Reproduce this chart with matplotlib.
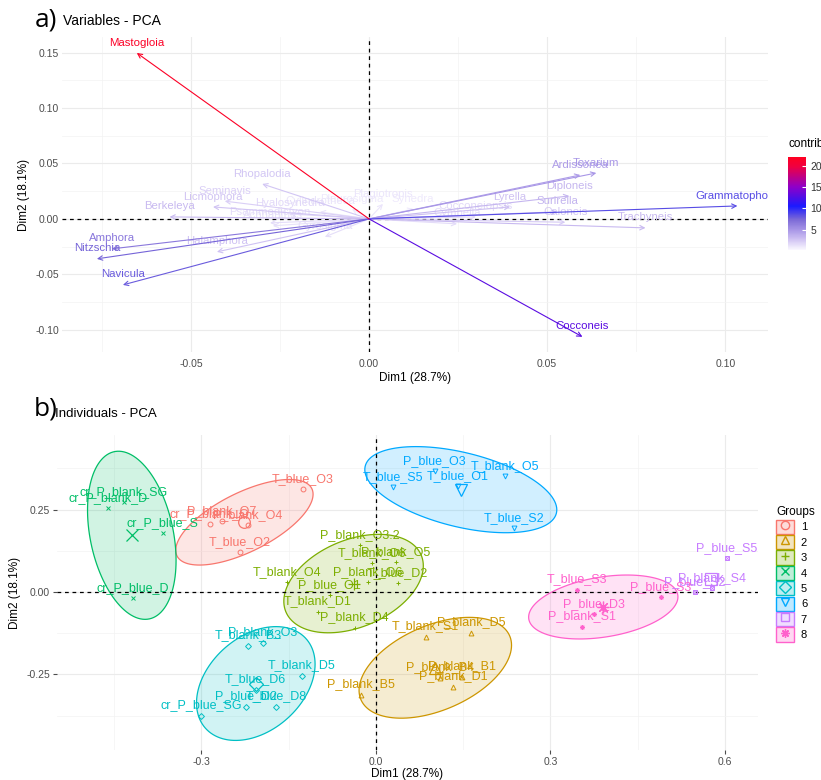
import numpy as np
import matplotlib.pyplot as plt
from matplotlib.colors import LinearSegmentedColormap, Normalize
from matplotlib.cm import ScalarMappable
from matplotlib.patches import Patch, Polygon
from matplotlib.lines import Line2D
from matplotlib.legend_handler import HandlerTuple

plt.rcParams['font.family'] = ['Liberation Sans', 'DejaVu Sans']

# ---- a) variables: arrow tips and contributions ----
var_names = ['Mastogloia', 'Grammatophora', 'Cocconeis', 'Toxarium', 'Ardissonea',
             'Diploneis', 'Surirella', 'Lyrella', 'Caloneis', 'Trachyneis',
             'Navicula', 'Nitzschia', 'Amphora', 'Halamphora', 'Berkeleya',
             'Licmophora', 'Seminavis', 'Rhopalodia', 'Hyalosynedra', 'Psammodictyon',
             'Plagiotropis', 'Synedra', 'Cylindrotheca', 'Pleurosigma', 'Cocconeiopsis',
             'Gyrosigma', 'Achnanthes', 'Cymbella']
var_dim1 = [-0.0652, 0.1034, 0.0599, 0.0638, 0.0593,
            0.0562, 0.0528, 0.0396, 0.0551, 0.0776,
            -0.0691, -0.0764, -0.0722, -0.0427, -0.0560,
            -0.0438, -0.0405, -0.0300, -0.0222, -0.0278,
            0.0039, 0.0124, -0.0138, -0.0048, 0.0300,
            -0.0124, -0.0270, 0.0247]
var_dim2 = [0.1496, 0.0117, -0.1063, 0.0414, 0.0396,
            0.0207, 0.0063, 0.0108, -0.0030, -0.0081,
            -0.0595, -0.0360, -0.0270, -0.0297, 0.0018,
            0.0108, 0.0160, 0.0315, 0.0045, -0.0036,
            0.0135, 0.0090, 0.0063, 0.0090, 0.0018,
            -0.0162, -0.0063, -0.0045]
var_contrib = [21.5, 8.6, 13.0, 5.0, 4.7,
               3.4, 3.5, 2.9, 2.5, 3.2,
               8.0, 7.6, 6.6, 2.8, 3.2,
               2.7, 2.2, 2.6, 1.8, 1.6,
               1.2, 1.0, 1.3, 1.0, 1.8,
               1.5, 1.4, 1.6]

# ---- b) individuals ----
ind_names = ['T_blue_O3', 'cr_P_blank_O', 'P_blank_O7', 'P_blank_O4', 'T_blue_O2',
             'T_blank_S1', 'P_blank_D5', 'P_blank_B4', 'P_blank_B1', 'P_blank_D1', 'P_blank_B5',
             'P_blank_O3.2', 'T_blank_O6', 'P_blank_O5', 'P_blank_O6', 'T_blue_D2',
             'T_blank_O4', 'P_blue_O1', 'T_blank_D1', 'P_blank_D4',
             'cr_P_blank_SG', 'cr_P_blank_D', 'cr_P_blue_S', 'cr_P_blue_D',
             'T_blank_B3', 'P_blank_O3', 'T_blank_D5', 'T_blue_D6', 'P_blue_D2', 'T_blue_D8',
             'cr_P_blue_SG',
             'P_blue_O3', 'T_blue_S5', 'T_blue_O1', 'T_blank_O5', 'T_blue_S2',
             'P_blue_S5', 'P_blank_S4', 'P_blue_S2',
             'T_blue_S3', 'P_blue_S3', 'P_blue_D3', 'P_blank_S1']
ind_dim1 = [-0.1255, -0.2853, -0.2647, -0.2200, -0.2338,
            0.0860, 0.1633, 0.1100, 0.1478, 0.1324, -0.0258,
            -0.0275, -0.0069, 0.0344, -0.0138, 0.0378,
            -0.1530, -0.0791, -0.0997, -0.0361,
            -0.4332, -0.4607, -0.3661, -0.4177,
            -0.2200, -0.1942, -0.1272, -0.2063, -0.2235, -0.1719,
            -0.3008,
            0.1014, 0.0292, 0.1410, 0.2218, 0.2372,
            0.6034, 0.5776, 0.5484,
            0.3455, 0.4899, 0.3747, 0.3541]
ind_dim2 = [0.3120, 0.2060, 0.2150, 0.2030, 0.1212,
            -0.1360, -0.1240, -0.2606, -0.2576, -0.2879, -0.3121,
            0.1424, 0.0879, 0.0909, 0.0303, 0.0273,
            0.0303, -0.0091, -0.0606, -0.1091,
            0.2727, 0.2545, 0.1788, -0.0182,
            -0.1636, -0.1545, -0.2545, -0.2969, -0.3485, -0.3485,
            -0.3757,
            0.3666, 0.3182, 0.3212, 0.3515, 0.1939,
            0.1030, 0.0121, 0.0000,
            0.0061, -0.0152, -0.0667, -0.1060]
ind_group = [1, 1, 1, 1, 1,
             2, 2, 2, 2, 2, 2,
             3, 3, 3, 3, 3, 3, 3, 3, 3,
             4, 4, 4, 4,
             5, 5, 5, 5, 5, 5, 5,
             6, 6, 6, 6, 6,
             7, 7, 7,
             8, 8, 8, 8]

group_ids = [1, 2, 3, 4, 5, 6, 7, 8]
group_colors = ['#F8766D', '#CD9600', '#7CAE00', '#00BE67',
                '#00BFC4', '#00A9FF', '#C77CFF', '#FF61CC']
group_markers = ['o', '^', '+', 'x', 'D', 'v', 's', (8, 2, 0)]
ELLIPSE_LEVEL = 0.84

contrib_cmap = LinearSegmentedColormap.from_list('contrib', [
    (0.0, '#faf8ff'), (0.12, '#cdbff2'), (0.22, '#a694e6'), (0.33, '#7a68d6'),
    (0.47, '#1a1aff'), (0.68, '#8f00c8'), (0.9, '#f00040'), (1.0, '#ff0020')])
contrib_norm = Normalize(vmin=0.3, vmax=22)

fig = plt.figure(figsize=(8.21, 7.80), dpi=100)
W, H = 821, 780


def px_axes(l, t, r, b):
    return fig.add_axes([l / W, 1 - b / H, (r - l) / W, (b - t) / H])


def style_axes(ax, xmaj, xmin, ymaj, ymin, ticks):
    ax.set_xticks(xmaj)
    ax.set_xticks(xmin, minor=True)
    ax.set_yticks(ymaj)
    ax.set_yticks(ymin, minor=True)
    ax.grid(True, which='major', color='#ebebeb', lw=0.8)
    ax.grid(True, which='minor', color='#f3f3f3', lw=0.5)
    ax.set_axisbelow(True)
    for s in ax.spines.values():
        s.set_visible(False)
    ax.tick_params(which='minor', length=0)
    ax.tick_params(which='major', length=3 if ticks else 0, color='#4d4d4d',
                   labelsize=7.5, labelcolor='#4d4d4d', pad=2)
    ax.axhline(0, color='black', ls=(0, (3, 3)), lw=0.9)
    ax.axvline(0, color='black', ls=(0, (3, 3)), lw=0.9)


# ---------------- panel a ----------------
ax1 = px_axes(62, 37, 768, 352)
ax1.set_xlim(-0.0862, 0.112)
ax1.set_ylim(-0.12, 0.164)
style_axes(ax1, [-0.05, 0, 0.05, 0.10], [-0.075, -0.025, 0.025, 0.075],
           [-0.10, -0.05, 0, 0.05, 0.10, 0.15],
           [-0.075, -0.025, 0.025, 0.075, 0.125], ticks=False)
ax1.tick_params(axis='x', pad=5)
ax1.set_xticklabels(['-0.05', '0.00', '0.05', '0.10'])
ax1.set_yticklabels(['-0.10', '-0.05', '0.00', '0.05', '0.10', '0.15'])

order = np.argsort(var_contrib)
for i in order:
    c = contrib_cmap(contrib_norm(var_contrib[i]))
    ax1.annotate('', xy=(var_dim1[i], var_dim2[i]), xytext=(0, 0),
                 arrowprops=dict(arrowstyle='->', color=c, lw=0.8,
                                 shrinkA=0, shrinkB=0, mutation_scale=8))
    ax1.annotate(var_names[i], (var_dim1[i], var_dim2[i]), xytext=(0, 7.5),
                 textcoords='offset points', ha='center', va='center',
                 fontsize=8.2, color=c, clip_on=True)

ax1.set_xlabel('Dim1 (28.7%)', fontsize=8.5, labelpad=2)
ax1.set_ylabel('Dim2 (18.1%)', fontsize=8.5, labelpad=4)

fig.text(35 / W, 1 - 20 / H, 'a)', fontsize=19, family='Open Sans', va='center')
fig.text(63 / W, 1 - 21 / H, 'Variables - PCA', fontsize=10, va='center')

cax = fig.add_axes([788 / W, 1 - 250 / H, 18 / W, 93 / H])
cb = fig.colorbar(ScalarMappable(norm=contrib_norm, cmap=contrib_cmap), cax=cax)
cb.outline.set_visible(False)
cb.set_ticks([5, 10, 15, 20])
cax.tick_params(length=3, color='white', direction='in', labelsize=7.5,
                labelcolor='#333333', pad=3)
fig.text(788 / W, 1 - 144 / H, 'contrib', fontsize=8.5, va='center')

# ---------------- panel b ----------------
ax2 = px_axes(57, 435, 758, 750)
ax2.set_xlim(-0.548, 0.657)
ax2.set_ylim(-0.479, 0.476)
style_axes(ax2, [-0.3, 0, 0.3, 0.6], [-0.45, -0.15, 0.15, 0.45],
           [-0.25, 0, 0.25], [-0.375, -0.125, 0.125, 0.375], ticks=True)
ax2.set_xticklabels(['-0.3', '0.0', '0.3', '0.6'])
ax2.set_yticklabels(['-0.25', '0.00', '0.25'])

xs_all = np.array(ind_dim1)
ys_all = np.array(ind_dim2)
gs_all = np.array(ind_group)
k = np.sqrt(-2 * np.log(1 - ELLIPSE_LEVEL))
t = np.linspace(0, 2 * np.pi, 120)
handles = []
for g, col, mk in zip(group_ids, group_colors, group_markers):
    sel = gs_all == g
    gx, gy = xs_all[sel], ys_all[sel]
    if sel.sum() >= 4:
        cov = np.cov(gx, gy)
        L = np.linalg.cholesky(cov)
        pts = (L @ np.vstack([np.cos(t), np.sin(t)])) * k
        pts = pts.T + [gx.mean(), gy.mean()]
        ax2.add_patch(Polygon(pts, closed=True, facecolor=col, alpha=0.18, lw=0))
        ax2.add_patch(Polygon(pts, closed=True, facecolor='none', edgecolor=col, lw=0.9))
    fill = 'none' if mk in ('o', '^', 'D', 'v', 's') else col
    msz = 3.5 if mk != 'D' else 3
    ax2.plot(gx, gy, ls='none', marker=mk, ms=msz, mfc=fill, mec=col, mew=0.7)
    if mk == 's':
        ax2.plot(gx, gy, ls='none', marker='x', ms=msz * 0.7, mec=col, mew=0.6)
    ax2.plot(gx.mean(), gy.mean(), ls='none', marker=mk, ms=msz * 2.4,
             mfc=fill, mec=col, mew=0.9)
    handles.append((Patch(facecolor=col, alpha=0.25, edgecolor='none'),
                    Patch(facecolor='none', edgecolor=col, lw=1),
                    Line2D([], [], ls='none', marker=mk, ms=6, mfc=fill, mec=col, mew=1)))

for name, x, y, g in zip(ind_names, ind_dim1, ind_dim2, ind_group):
    ax2.annotate(name, (x, y), xytext=(0, 7.5), textcoords='offset points',
                 ha='center', va='center', fontsize=9,
                 color=group_colors[g - 1], clip_on=True)

ax2.set_xlabel('Dim1 (28.7%)', fontsize=8.5, labelpad=1)
ax2.set_ylabel('Dim2 (18.1%)', fontsize=8.5, labelpad=4)

fig.text(34 / W, 1 - 409 / H, 'b)', fontsize=19, family='Open Sans', va='center')
fig.text(55 / W, 1 - 414 / H, 'Individuals - PCA', fontsize=9.5, va='center')

fig.legend(handles, [str(g) for g in group_ids], title='Groups',
           handler_map={tuple: HandlerTuple(ndivide=1, pad=0)},
           loc='upper left', bbox_to_anchor=(772 / W, 1 - 502 / H),
           frameon=False, fontsize=8, title_fontsize=8.5,
           handlelength=1.6, handleheight=1.6, labelspacing=0.1,
           handletextpad=0.6, borderaxespad=0, alignment='left')

fig.savefig('out.png', dpi=100)
